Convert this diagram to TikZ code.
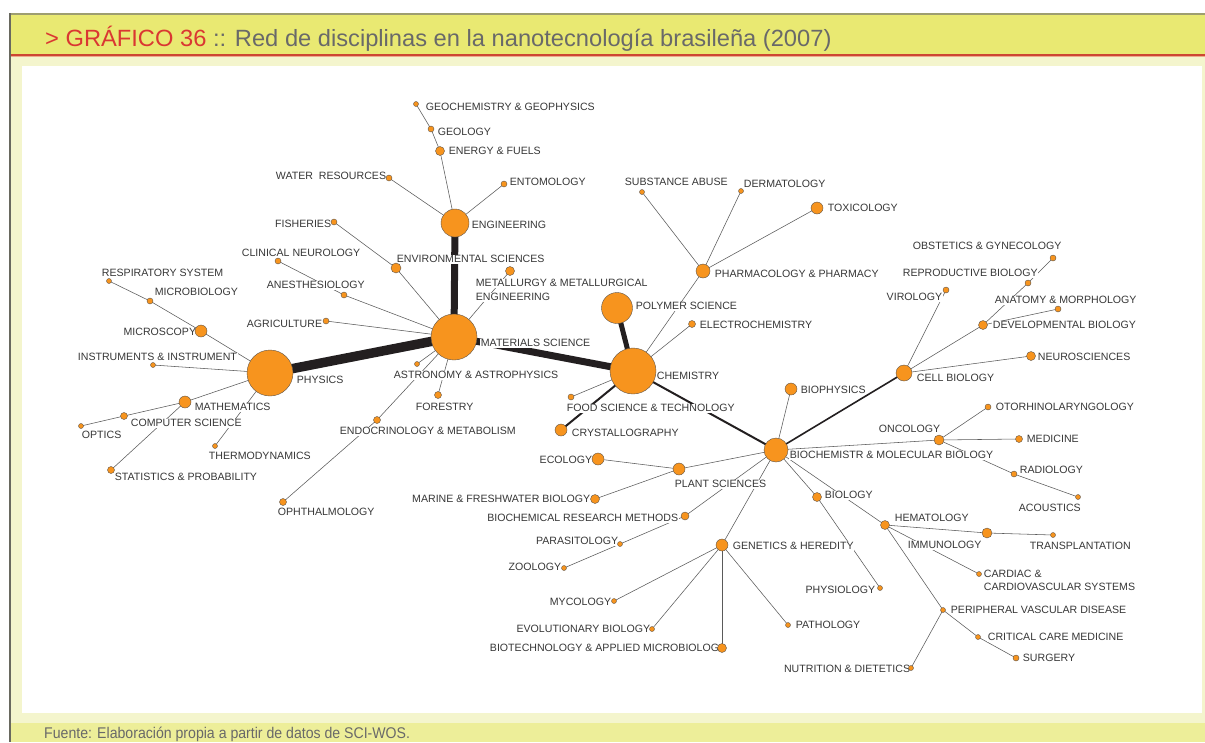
\documentclass[tikz,border=0pt]{standalone}
\usepackage{fontspec}
\setmainfont{Liberation Sans}
\definecolor{nodeor}{RGB}{247,148,30}
\definecolor{nodebd}{RGB}{95,85,75}
\definecolor{edgegr}{RGB}{90,90,90}
\definecolor{thickc}{RGB}{35,31,32}
\definecolor{labc}{RGB}{55,55,55}
\definecolor{hdyel}{RGB}{233,233,114}
\definecolor{frmyel}{RGB}{244,245,205}
\definecolor{ftyel}{RGB}{237,238,153}
\definecolor{topgr}{RGB}{158,158,112}
\definecolor{leftgr}{RGB}{105,105,95}
\definecolor{titred}{RGB}{218,55,50}
\definecolor{titgr}{RGB}{105,105,105}
\definecolor{redln}{RGB}{205,70,50}
\definecolor{pinkln}{RGB}{238,170,140}
\pgfdeclarelayer{frame}
\pgfdeclarelayer{edges}
\pgfdeclarelayer{labels}
\pgfsetlayers{frame,edges,labels,main}
\tikzset{
  orb/.style={circle, fill=nodeor, draw=nodebd, line width=0.4pt, inner sep=0pt, minimum size=#1},
  lab/.style={font=\fontsize{10.6}{12}\selectfont, text=labc, fill=white, inner sep=0.7pt, text height=7.6pt, text depth=0pt},
  lw/.style={lab, anchor=west},
  le/.style={lab, anchor=east},
  lnk/.style={draw=edgegr, line width=0.55pt},
  fat/.style={draw=thickc, line width=#1}
}
\begin{document}
\begin{tikzpicture}[x=1pt,y=-1pt]
\useasboundingbox (0,0) rectangle (1205,742);
\begin{pgfonlayer}{frame}
\fill[white] (0,0) rectangle (1205,742);
\fill[frmyel] (10,57) rectangle (1205,742);
\fill[hdyel] (10,15) rectangle (1205,54);
\fill[topgr] (9,13) rectangle (1205,15);
\fill[redln] (10,54) rectangle (1205,55.6);
\fill[pinkln] (10,55.6) rectangle (1205,57);
\fill[white] (22,66) rectangle (1202,713);
\fill[ftyel] (10,723) rectangle (1205,742);
\fill[leftgr] (9,13) rectangle (10.5,742);
\end{pgfonlayer}
\node[anchor=base west, inner sep=0pt] (title) at (45,46)
  {\scalebox{1.008}[1]{\fontsize{23.5}{26}\selectfont\textcolor{titred}{> GRÁFICO 36}\textcolor{titgr}{\ :: Red de disciplinas en la nanotecnología brasileña (2007)}}};
\node[anchor=base west, inner sep=0pt, text=titgr] (src) at (44,738.5)
  {\scalebox{0.91}[1]{\fontsize{15.5}{17}\selectfont Fuente: Elaboración propia a partir de datos de SCI-WOS.}};
% circles
\node[orb=46] (mat) at (454,337) {};
\node[orb=46] (phy) at (270,373) {};
\node[orb=46] (chem) at (633,371) {};
\node[orb=28] (eng) at (455,223) {};
\node[orb=31] (poly) at (617,308) {};
\node[orb=24] (bio) at (776,450) {};
\node[orb=16] (cell) at (904,373) {};
\node[orb=14] (pharm) at (703,271) {};
\node[orb=12] (micros) at (201,331) {};
\node[orb=12] (math) at (185,402) {};
\node[orb=12] (crys) at (561,430) {};
\node[orb=12] (eco) at (598,459) {};
\node[orb=12] (plant) at (679,469) {};
\node[orb=12] (gen) at (722,545) {};
\node[orb=12] (biophys) at (791,389) {};
\node[orb=12] (tox) at (817,208) {};
\node[orb=10] (env) at (396,268) {};
\node[orb=10] (onc) at (939,440) {};
\node[orb=10] (immu) at (987,533) {};
\node[orb=9] (energy) at (440,151) {};
\node[orb=9] (metal) at (510,271) {};
\node[orb=9] (marine) at (595,499) {};
\node[orb=9] (biot) at (722,648) {};
\node[orb=9] (biol) at (817,497) {};
\node[orb=9] (hema) at (885,525) {};
\node[orb=9] (devb) at (983,325) {};
\node[orb=9] (neuro) at (1031,356) {};
\node[orb=8] (brm) at (685,516) {};
\node[orb=7] (comp) at (124,416) {};
\node[orb=7] (stat) at (111,470) {};
\node[orb=7] (endo) at (377,420) {};
\node[orb=7] (oph) at (283,502) {};
\node[orb=7] (forest) at (438,395) {};
\node[orb=7] (elec) at (692,324) {};
\node[orb=7] (medic) at (1019,439) {};
\node[orb=6] (geol) at (431,129) {};
\node[orb=6] (water) at (389,178) {};
\node[orb=6] (ento) at (504,184) {};
\node[orb=6] (fish) at (334,222) {};
\node[orb=6] (clin) at (278,261) {};
\node[orb=6] (anes) at (344,295) {};
\node[orb=6] (microb) at (150,301) {};
\node[orb=6] (agri) at (326,321) {};
\node[orb=6] (food) at (571,397) {};
\node[orb=6] (otor) at (988,407) {};
\node[orb=6] (radio) at (1014,474) {};
\node[orb=6] (viro) at (946,290) {};
\node[orb=6] (repro) at (1028,283) {};
\node[orb=6] (obst) at (1053,258) {};
\node[orb=6] (anat) at (1058,309) {};
\node[orb=6] (surg) at (1016,658) {};
\node[orb=5] (geoch) at (416,104) {};
\node[orb=5] (resp) at (109,281) {};
\node[orb=5] (instr) at (153,365) {};
\node[orb=5] (opt) at (81,426) {};
\node[orb=5] (thermo) at (215,446) {};
\node[orb=5] (astro) at (417,364) {};
\node[orb=5] (para) at (620,544) {};
\node[orb=5] (zoo) at (564,568) {};
\node[orb=5] (myco) at (614,601) {};
\node[orb=5] (evo) at (652,629) {};
\node[orb=5] (path) at (788,625) {};
\node[orb=5] (acou) at (1078,497) {};
\node[orb=5] (physio) at (880,588) {};
\node[orb=5] (trans) at (1053,535) {};
\node[orb=5] (card) at (979,574) {};
\node[orb=5] (periph) at (943,610) {};
\node[orb=5] (crit) at (978,637) {};
\node[orb=5] (nutr) at (911,668) {};
\node[orb=5] (subst) at (642,192) {};
\node[orb=5] (derm) at (741,191) {};
% edges
\begin{pgfonlayer}{edges}
\draw[fat=9.5pt] (phy.center) -- (mat.center);
\draw[fat=7pt] (mat.center) -- (chem.center);
\draw[fat=7pt] (mat.center) -- (eng.center);
\draw[fat=5pt] (chem.center) -- (poly.center);
\draw[fat=2pt] (chem.center) -- (bio.center);
\draw[fat=1.6pt] (bio.center) -- (cell.center);
\draw[fat=2pt] (chem.center) -- (crys.center);
\foreach \a/\b in {geoch/geol, geol/energy, energy/eng, water/eng, ento/eng,
  fish/env, env/mat, clin/anes, anes/mat, agri/mat, metal/mat, astro/mat, forest/mat, endo/mat, oph/endo,
  resp/microb, microb/micros, micros/phy, instr/phy, math/phy, thermo/phy, opt/comp, comp/math, stat/math,
  chem/pharm, subst/pharm, derm/pharm, tox/pharm, chem/elec, chem/food,
  cell/viro, cell/devb, devb/repro, repro/obst, devb/anat, cell/neuro,
  bio/biophys, bio/onc, onc/otor, onc/medic, onc/radio, radio/acou, bio/biol, biol/physio, bio/hema,
  hema/immu, immu/trans, hema/card, hema/periph, periph/crit, crit/surg, periph/nutr,
  bio/plant, plant/eco, plant/marine, bio/brm, brm/para, para/zoo, bio/gen, gen/myco, gen/evo, gen/biot, gen/path}
  \draw[lnk] (\a.center) -- (\b.center);
\end{pgfonlayer}
% labels
\begin{pgfonlayer}{labels}
\node[lw] (geoch-l) at (425,107) {GEOCHEMISTRY \& GEOPHYSICS};
\node[lw] (geol-l) at (437,132) {GEOLOGY};
\node[lw] (energy-l) at (448,151) {ENERGY \& FUELS};
\node[le] (water-l) at (387,176) {WATER\ \ RESOURCES};
\node[lw] (ento-l) at (509,182) {ENTOMOLOGY};
\node[lw] (eng-l) at (471,225) {ENGINEERING};
\node[le] (fish-l) at (332,224) {FISHERIES};
\node[lw] (env-l) at (396,259) {ENVIRONMENTAL SCIENCES};
\node[lw] (clin-l) at (241,253) {CLINICAL NEUROLOGY};
\node[lw] (anes-l) at (266,285) {ANESTHESIOLOGY};
\node[lw] (metal-l) at (475,283) {METALLURGY \& METALLURGICAL};
\node[lw] (metal-l2) at (475,297) {ENGINEERING};
\node[lw] (mat-l) at (480,343) {MATERIALS SCIENCE};
\node[lw] (resp-l) at (101,273) {RESPIRATORY SYSTEM};
\node[lw] (microb-l) at (154,292) {MICROBIOLOGY};
\node[le] (micros-l) at (197,332) {MICROSCOPY};
\node[lw] (instr-l) at (77,357) {INSTRUMENTS \& INSTRUMENT};
\node[lw] (phy-l) at (296,380) {PHYSICS};
\node[lw] (math-l) at (194,407) {MATHEMATICS};
\node[lw] (comp-l) at (130,423) {COMPUTER SCIENCE};
\node[lw] (opt-l) at (81,435) {OPTICS};
\node[lw] (thermo-l) at (208,456) {THERMODYNAMICS};
\node[lw] (stat-l) at (114,477) {STATISTICS \& PROBABILITY};
\node[le] (agri-l) at (323,324) {AGRICULTURE};
\node[lw] (endo-l) at (339,431) {ENDOCRINOLOGY \& METABOLISM};
\node[lw] (oph-l) at (277,512) {OPHTHALMOLOGY};
\node[lw] (astro-l) at (393,375) {ASTRONOMY \& ASTROPHYSICS};
\node[lw] (forest-l) at (415,407) {FORESTRY};
\node[lw] (food-l) at (566,408) {FOOD SCIENCE \& TECHNOLOGY};
\node[lw] (crys-l) at (571,433) {CRYSTALLOGRAPHY};
\node[lw] (chem-l) at (656,376) {CHEMISTRY};
\node[lw] (poly-l) at (635,306) {POLYMER SCIENCE};
\node[lw] (elec-l) at (699,325) {ELECTROCHEMISTRY};
\node[lw] (pharm-l) at (714,274) {PHARMACOLOGY \& PHARMACY};
\node[lw] (subst-l) at (624,182) {SUBSTANCE ABUSE};
\node[lw] (derm-l) at (743,184) {DERMATOLOGY};
\node[lw] (tox-l) at (827,208) {TOXICOLOGY};
\node[lw] (obst-l) at (912,246) {OBSTETICS \& GYNECOLOGY};
\node[lw] (repro-l) at (902,273) {REPRODUCTIVE BIOLOGY};
\node[le] (viro-l) at (943,297) {VIROLOGY};
\node[lw] (anat-l) at (994,300) {ANATOMY \& MORPHOLOGY};
\node[lw] (devb-l) at (992,325) {DEVELOPMENTAL BIOLOGY};
\node[lw] (neuro-l) at (1037,357) {NEUROSCIENCES};
\node[lw] (cell-l) at (916,378) {CELL BIOLOGY};
\node[lw] (biophys-l) at (800,390) {BIOPHYSICS};
\node[lw] (otor-l) at (995,407) {OTORHINOLARYNGOLOGY};
\node[le] (onc-l) at (941,429) {ONCOLOGY};
\node[lw] (medic-l) at (1026,439) {MEDICINE};
\node[lw] (bio-l) at (789,455) {BIOCHEMISTR \& MOLECULAR BIOLOGY};
\node[lw] (radio-l) at (1019,470) {RADIOLOGY};
\node[lw] (acou-l) at (1018,508) {ACOUSTICS};
\node[lw] (biol-l) at (824,495) {BIOLOGY};
\node[lw] (hema-l) at (894,518) {HEMATOLOGY};
\node[lw] (immu-l) at (907,545) {IMMUNOLOGY};
\node[lw] (trans-l) at (1029,546) {TRANSPLANTATION};
\node[lw] (card-l) at (983,574) {CARDIAC \&};
\node[lw] (card-l2) at (983,587) {CARDIOVASCULAR SYSTEMS};
\node[le] (physio-l) at (876,590) {PHYSIOLOGY};
\node[lw] (periph-l) at (950,610) {PERIPHERAL VASCULAR DISEASE};
\node[lw] (crit-l) at (987,637) {CRITICAL CARE MEDICINE};
\node[lw] (surg-l) at (1022,658) {SURGERY};
\node[le] (nutr-l) at (911,669) {NUTRITION \& DIETETICS};
\node[le] (eco-l) at (593,460) {ECOLOGY};
\node[lw] (plant-l) at (674,484) {PLANT SCIENCES};
\node[le] (marine-l) at (591,499) {MARINE \& FRESHWATER BIOLOGY};
\node[le] (brm-l) at (679,518) {BIOCHEMICAL RESEARCH METHODS};
\node[le] (para-l) at (619,541) {PARASITOLOGY};
\node[le] (zoo-l) at (562,567) {ZOOLOGY};
\node[lw] (gen-l) at (732,546) {GENETICS \& HEREDITY};
\node[le] (myco-l) at (612,602) {MYCOLOGY};
\node[le] (evo-l) at (651,629) {EVOLUTIONARY BIOLOGY};
\node[le] (biot-l) at (720,648) {BIOTECHNOLOGY \& APPLIED MICROBIOLOG};
\node[lw] (path-l) at (795,625) {PATHOLOGY};
\end{pgfonlayer}
\end{tikzpicture}
\end{document}
